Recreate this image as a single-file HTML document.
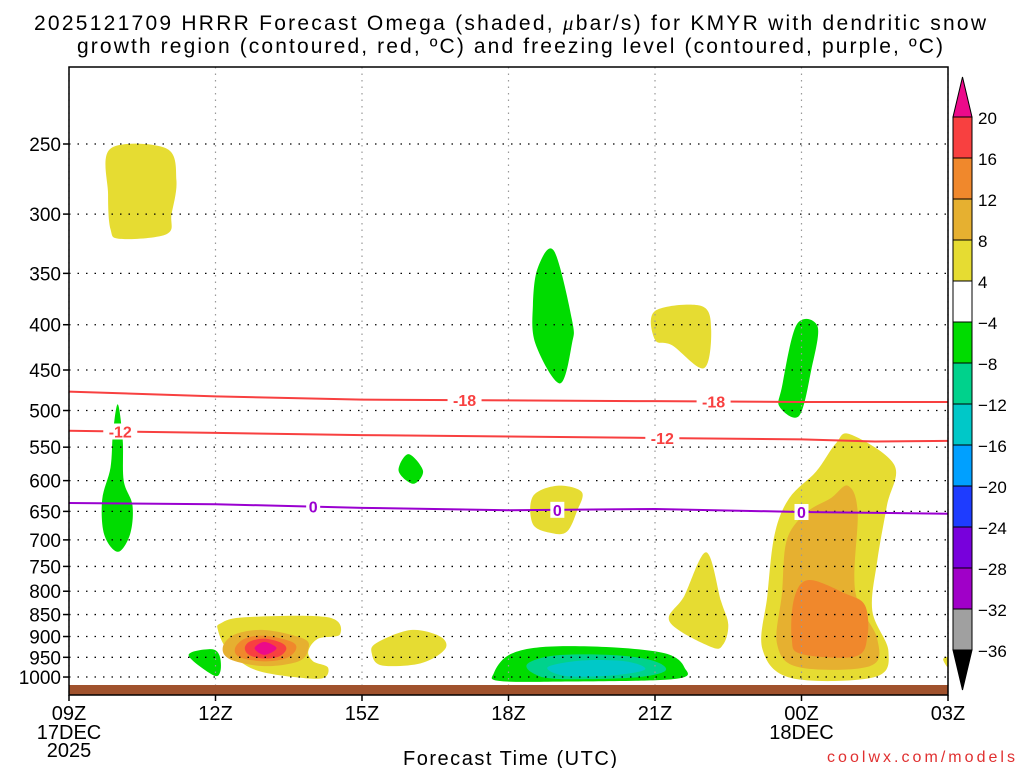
<!DOCTYPE html>
<html><head><meta charset="utf-8"><style>
html,body{margin:0;padding:0;background:#fff;}
svg{display:block;font-family:"Liberation Sans",sans-serif;}
</style></head><body>
<svg id="chart" width="1024" height="768" xmlns="http://www.w3.org/2000/svg">
<text x="510" y="30" font-size="21" text-anchor="middle" fill="#000" textLength="952" lengthAdjust="spacing">2025121709 HRRR Forecast Omega (shaded, <tspan font-family="Liberation Serif" font-style="italic">μ</tspan>bar/s) for KMYR with dendritic snow</text>
<text x="510" y="53" font-size="21" text-anchor="middle" fill="#000" textLength="866" lengthAdjust="spacing">growth region (contoured, red, ºC) and freezing level (contoured, purple, ºC)</text>
<g id="plot"></g>
<g id="axes"></g>
<g id="cbar"></g>
<text x="510" y="765" font-size="20" text-anchor="middle" fill="#000" textLength="214" lengthAdjust="spacing">Forecast Time (UTC)</text>
<text x="1015" y="762" font-size="16" text-anchor="end" fill="#e03030" textLength="188" lengthAdjust="spacing">coolwx.com/models</text>
</svg>
<script>
// ---- data ----
const pressureTicks=[250,300,350,400,450,500,550,600,650,700,750,800,850,900,950,1000];
const timeTicks=[0,3,6,9,12,15,18];
const timeLabels=["09Z","12Z","15Z","18Z","21Z","00Z","03Z"];
const levelBounds=[20,16,12,8,4,-4,-8,-12,-16,-20,-24,-28,-32,-36];
const levelColors=["#f84040","#f0882c","#e6b030","#e6dc32","#ffffff","#00dc00","#00d28c","#00c8c8","#00a0ff","#1e3cff","#7800dc","#a000c8","#a0a0a0"];
// shaded blobs: [hour, hPa]
const blobYellowTL=[[0.85,253],[2.0,253],[2.2,275],[2.1,300],[2.0,316],[1.05,320],[0.85,312],[0.8,285]];
const blobGreenL=[[1.0,492],[1.1,540],[1.12,600],[1.3,640],[1.25,690],[1.0,722],[0.72,690],[0.68,630],[0.85,580],[0.9,530]];
const blobGreen12=[[2.45,945],[2.9,930],[3.08,945],[3.1,985],[2.95,995]];
const blobYellow13=[[3.1,870],[3.6,856],[5.3,856],[5.55,895],[5.1,905],[4.9,935],[5.0,960],[5.3,975],[5.2,1003],[4.6,1000],[3.9,985],[3.5,960],[3.2,925],[3.05,885]];
const blobGold13=[[4.0,885],[4.8,905],[4.9,930],[4.7,960],[4.0,972],[3.3,955],[3.15,925],[3.4,895]];
const blobOrange13=[[4.0,898],[4.55,912],[4.65,930],[4.45,952],[4.0,960],[3.5,950],[3.4,928],[3.6,905]];
const blobRed13=[[4.0,905],[4.35,915],[4.45,930],[4.3,948],[4.0,953],[3.7,945],[3.6,928],[3.7,912]];
const blobPink13=[[4.0,913],[4.25,928],[4.0,944],[3.8,928]];
const blobYellow16=[[6.3,915],[7.0,885],[7.6,900],[7.7,930],[7.2,965],[6.4,970],[6.2,940]];
const blobGreen16=[[6.95,560],[7.25,585],[7.05,605],[6.75,585]];
const blobGreen19=[[9.93,330],[10.3,395],[10.3,420],[10.05,466],[9.55,420],[9.5,380],[9.6,345]];
const blobYellow19=[[9.5,625],[10.0,608],[10.5,618],[10.4,650],[10.2,685],[9.9,688],[9.5,672]];
const blobGreen20=[[8.7,990],[9.0,945],[9.7,925],[11.0,925],[12.2,940],[12.6,975],[12.4,1005],[10.0,1012],[8.8,1010]];
const blobTeal20=[[9.4,965],[10.0,945],[11.2,945],[12.0,960],[12.2,985],[11.5,1002],[10.0,1005],[9.5,990]];
const blobCyan20=[[9.8,975],[10.5,958],[11.4,960],[11.8,980],[11.2,995],[10.2,998]];
const blobYellow21=[[12.0,386],[12.95,381],[13.15,405],[13.0,448],[12.35,422],[12.0,416]];
const blobGreen00=[[14.9,400],[15.33,402],[15.2,450],[14.95,507],[14.55,495],[14.6,470]];
const blobYellow22=[[13.05,723],[13.35,820],[13.5,872],[13.4,918],[13.15,925],[12.3,866],[12.6,810]];
const blobYellow00=[[16.0,532],[16.9,576],[16.75,640],[16.55,740],[16.45,842],[16.78,935],[16.5,1000],[14.8,1003],[14.2,930],[14.3,810],[14.45,690],[14.75,628],[15.3,586],[15.7,545]];
const blobGold00=[[15.95,608],[16.15,650],[16.1,800],[16.55,905],[16.4,972],[14.95,975],[14.5,918],[14.6,805],[14.7,700],[15.1,652],[15.6,628]];
const blobOrange00=[[15.15,777],[15.9,805],[16.3,830],[16.35,900],[16.1,948],[15.0,942],[14.8,905],[14.85,815]];
const blobYellowEdge=[[17.9,955],[18.0,950],[18.0,975]];
const shaded=[
 ["yellow",blobYellowTL,"#e6dc32"],["green",blobGreenL,"#00dc00"],["green",blobGreen12,"#00dc00"],
 ["yellow",blobYellow13,"#e6dc32"],["gold",blobGold13,"#e6b030"],["orange",blobOrange13,"#f0882c"],["red",blobRed13,"#f84040"],["pink",blobPink13,"#ec0a8a"],
 ["yellow",blobYellow16,"#e6dc32"],["green",blobGreen16,"#00dc00"],["green",blobGreen19,"#00dc00"],["yellow",blobYellow19,"#e6dc32"],
 ["green",blobGreen20,"#00dc00"],["teal",blobTeal20,"#00d28c"],["cyan",blobCyan20,"#00c8c8"],
 ["yellow",blobYellow21,"#e6dc32"],["green",blobGreen00,"#00dc00"],["yellow",blobYellow22,"#e6dc32"],
 ["yellow",blobYellow00,"#e6dc32"],["gold",blobGold00,"#e6b030"],["orange",blobOrange00,"#f0882c"],["yellow",blobYellowEdge,"#e6dc32"]
];
// contour lines [hour, hPa]
const lineMinus18=[[0,476],[3,482],[6,486],[9,487],[12,488],[15,489],[18,489]];
const lineMinus12=[[0,527],[3,530],[6,533],[9,535],[12,537],[15,539],[16.5,542],[18,541]];
const lineZero=[[0,636],[3,638],[6,644],[9,648],[12,646],[15,651],[18,654]];
const labelsMinus18=[[8.1,"-18"],[13.2,"-18"]];
const labelsMinus12=[[1.05,"-12"],[12.15,"-12"]];
const labelsZero=[[5.0,"0"],[10.0,"0"],[15.0,"0"]];

// ---- scales ----
const L=69,R=948,T=67,B=695;
function X(h){return L+h*(R-L)/18;}
function Y(p){return 144+Math.log(p/250)*384.5;}
function interpP(line,h){for(let i=0;i<line.length-1;i++){if(h>=line[i][0]&&h<=line[i+1][0]){const t=(h-line[i][0])/(line[i+1][0]-line[i][0]);return line[i][1]+t*(line[i+1][1]-line[i][1]);}}return line[line.length-1][1];}
const NS="http://www.w3.org/2000/svg";
function mk(tag,attrs,parent){const e=document.createElementNS(NS,tag);for(const k in attrs)e.setAttribute(k,attrs[k]);parent.appendChild(e);return e;}
function smoothPath(pts){const P=pts.map(q=>[X(q[0]),Y(q[1])]);const n=P.length;let d="M"+P[0][0]+","+P[0][1];
 for(let i=0;i<n;i++){const p0=P[(i-1+n)%n],p1=P[i],p2=P[(i+1)%n],p3=P[(i+2)%n];
 const c1=[p1[0]+(p2[0]-p0[0])/6,p1[1]+(p2[1]-p0[1])/6],c2=[p2[0]-(p3[0]-p1[0])/6,p2[1]-(p3[1]-p1[1])/6];
 d+="C"+c1[0]+","+c1[1]+" "+c2[0]+","+c2[1]+" "+p2[0]+","+p2[1];}return d+"Z";}
const plot=document.getElementById("plot"),axes=document.getElementById("axes"),cb=document.getElementById("cbar");

shaded.forEach(s=>{const e=mk("path",{d:smoothPath(s[1]),fill:s[2]},plot);

});

pressureTicks.forEach(p=>{const e=mk("line",{x1:L,x2:R,y1:Y(p),y2:Y(p),stroke:"#000","stroke-width":1.3,"stroke-dasharray":"1.5,7"},plot);

});
timeTicks.forEach(h=>{const e=mk("line",{x1:X(h),x2:X(h),y1:T,y2:B,stroke:"#999","stroke-width":1.2,"stroke-dasharray":"1.5,5"},plot);

});

function drawLine(line,color,name,labels){const d=line.map((q,i)=>(i?"L":"M")+X(q[0])+","+Y(q[1])).join("");
 const e=mk("path",{d:d,fill:"none",stroke:color,"stroke-width":2},plot);
 
 
 labels.forEach(lb=>{const x=X(lb[0]),y=Y(interpP(line,lb[0]));
  const w=lb[1].length*10+4;
  mk("rect",{x:x-w/2,y:y-8,width:w,height:16,fill:"#fff"},plot);
  const t=mk("text",{x:x,y:y+6,"font-size":16,"font-weight":"bold","text-anchor":"middle",fill:color},plot);
  t.textContent=lb[1];
  
  });}
drawLine(lineMinus18,"#f84040","contour-minus18",labelsMinus18);
drawLine(lineMinus12,"#f84040","contour-minus12",labelsMinus12);
drawLine(lineZero,"#9a00d0","freezing-level-0",labelsZero);

const g=mk("rect",{x:L,y:685,width:R-L,height:B-685,fill:"#a0522d"},plot);



const fr=mk("rect",{x:L,y:T,width:R-L,height:B-T,fill:"none",stroke:"#000","stroke-width":1.5},axes);


pressureTicks.forEach(p=>{mk("line",{x1:L-6,x2:L,y1:Y(p),y2:Y(p),stroke:"#000","stroke-width":1.5},axes);
 const t=mk("text",{x:L-8,y:Y(p)+7,"font-size":19,"text-anchor":"end",fill:"#000"},axes);
 t.textContent=p;
 
 });
timeTicks.forEach((h,i)=>{mk("line",{x1:X(h),x2:X(h),y1:B,y2:B+6,stroke:"#000","stroke-width":1.5},axes);
 const t=mk("text",{x:X(h),y:720,"font-size":20,"text-anchor":"middle",fill:"#000"},axes);
 t.textContent=timeLabels[i];
 
 });
[["17DEC",0,739],["2025",0,757],["18DEC",15,739]].forEach(a=>{const t=mk("text",{x:X(a[1]),y:a[2],"font-size":20,"text-anchor":"middle",fill:"#000"},axes);
 t.textContent=a[0];
 
 });

const cx0=953,cx1=972,cTop=117,cStep=(650-117)/13;
const up=mk("path",{d:`M${cx0},${cTop}L${(cx0+cx1)/2},77L${cx1},${cTop}Z`,fill:"#ec0a8a",stroke:"#000"},cb);


levelColors.forEach((c,i)=>{const r=mk("rect",{x:cx0,y:cTop+i*cStep,width:cx1-cx0,height:cStep,fill:c,stroke:"#000","stroke-width":1},cb);
 
 });
const dn=mk("path",{d:`M${cx0},${cTop+13*cStep}L${(cx0+cx1)/2},690L${cx1},${cTop+13*cStep}Z`,fill:"#000",stroke:"#000"},cb);


levelBounds.forEach((v,i)=>{const t=mk("text",{x:978,y:cTop+i*cStep+7,"font-size":17,fill:"#000"},cb);
 t.textContent=(v<0?"\u2212"+(-v):v);
 
 });
</script>
</body></html>
